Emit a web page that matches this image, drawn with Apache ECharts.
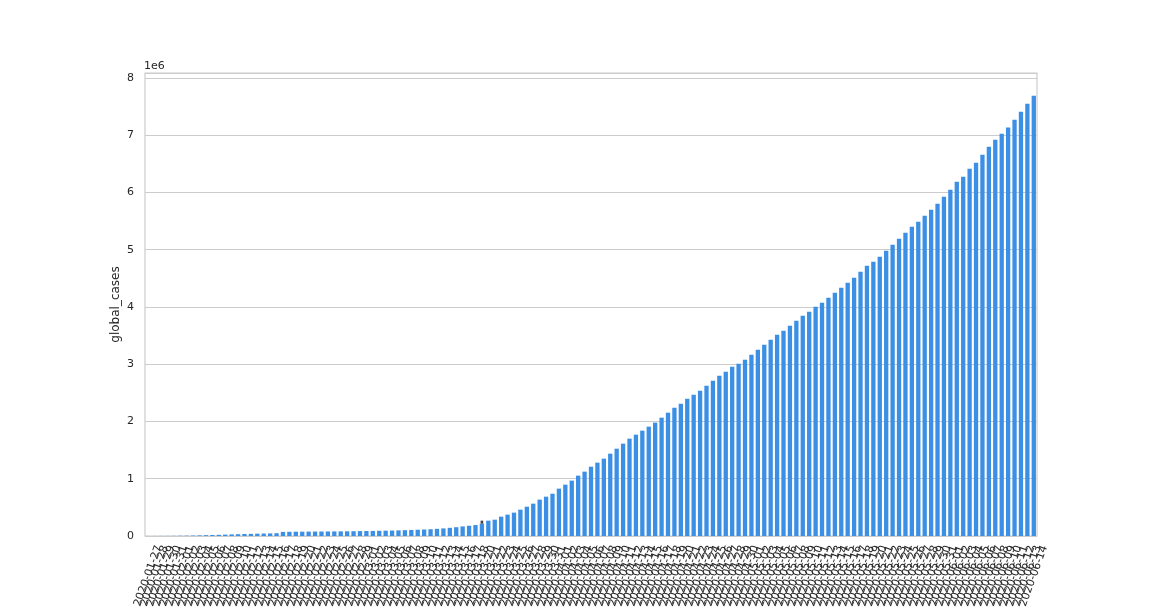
<!DOCTYPE html>
<html>
<head>
<meta charset="utf-8">
<script src="https://cdn.jsdelivr.net/npm/echarts@6/dist/echarts.min.js"></script>
<style>
  html, body { margin: 0; padding: 0; background: #fff; }
  #chart { width: 1152px; height: 612px; }
</style>
</head>
<body>
<div id="chart"></div>
<script>
// dates on the x axis (one bar per date, 2020-03-19 is not in the data)
const dates = [
  '2020-01-27', '2020-01-28', '2020-01-29', '2020-01-30', '2020-01-31',
  '2020-02-01', '2020-02-02', '2020-02-03', '2020-02-04', '2020-02-05', '2020-02-06', '2020-02-07',
  '2020-02-08', '2020-02-09', '2020-02-10', '2020-02-11', '2020-02-12', '2020-02-13', '2020-02-14',
  '2020-02-15', '2020-02-16', '2020-02-17', '2020-02-18', '2020-02-19', '2020-02-20', '2020-02-21',
  '2020-02-22', '2020-02-23', '2020-02-24', '2020-02-25', '2020-02-26', '2020-02-27', '2020-02-28',
  '2020-02-29',
  '2020-03-01', '2020-03-02', '2020-03-03', '2020-03-04', '2020-03-05', '2020-03-06', '2020-03-07',
  '2020-03-08', '2020-03-09', '2020-03-10', '2020-03-11', '2020-03-12', '2020-03-13', '2020-03-14',
  '2020-03-15', '2020-03-16', '2020-03-17', '2020-03-18', '2020-03-20', '2020-03-21', '2020-03-22',
  '2020-03-23', '2020-03-24', '2020-03-25', '2020-03-26', '2020-03-27', '2020-03-28', '2020-03-29',
  '2020-03-30', '2020-03-31',
  '2020-04-01', '2020-04-02', '2020-04-03', '2020-04-04', '2020-04-05', '2020-04-06', '2020-04-07',
  '2020-04-08', '2020-04-09', '2020-04-10', '2020-04-11', '2020-04-12', '2020-04-13', '2020-04-14',
  '2020-04-15', '2020-04-16', '2020-04-17', '2020-04-18', '2020-04-19', '2020-04-20', '2020-04-21',
  '2020-04-22', '2020-04-23', '2020-04-24', '2020-04-25', '2020-04-26', '2020-04-27', '2020-04-28',
  '2020-04-29', '2020-04-30',
  '2020-05-01', '2020-05-02', '2020-05-03', '2020-05-04', '2020-05-05', '2020-05-06', '2020-05-07',
  '2020-05-08', '2020-05-09', '2020-05-10', '2020-05-11', '2020-05-12', '2020-05-13', '2020-05-14',
  '2020-05-15', '2020-05-16', '2020-05-17', '2020-05-18', '2020-05-19', '2020-05-20', '2020-05-21',
  '2020-05-22', '2020-05-23', '2020-05-24', '2020-05-25', '2020-05-26', '2020-05-27', '2020-05-28',
  '2020-05-29', '2020-05-30', '2020-05-31',
  '2020-06-01', '2020-06-02', '2020-06-03', '2020-06-04', '2020-06-05', '2020-06-06', '2020-06-07',
  '2020-06-08', '2020-06-09', '2020-06-10', '2020-06-11', '2020-06-12', '2020-06-13', '2020-06-14'
]

// cumulative global cases, one per date
const globalCases = [
  600, 900, 1300, 2000, 2800,
  4600, 6100, 7800, 11000, 14500, 17500, 20600,
  24500, 28300, 31500, 34900, 37600, 40600, 43100,
  45200, 49000, 71400, 73300, 75200, 75700, 76800,
  77800, 78800, 79300, 80200, 81100, 82300, 83700,
  85400,
  87100, 89000, 90900, 93100, 95300, 98200, 101900,
  105600, 109600, 113700, 118300, 125300, 132800, 142500,
  153500, 167500, 179100, 191100, 215000, 268000, 285000,
  338000, 373000, 408000, 460000, 512000, 565000, 635000,
  687000, 739000,
  827000, 897000, 967000, 1054000, 1124000, 1211000, 1281000,
  1351000, 1438000, 1525000, 1613000, 1700000, 1770000, 1840000,
  1910000, 1980000, 2067000, 2154000, 2242000, 2312000, 2399000,
  2469000, 2539000, 2626000, 2713000, 2801000, 2870000, 2958000,
  3010000, 3080000,
  3167000, 3255000, 3342000, 3429000, 3517000, 3587000, 3674000,
  3761000, 3849000, 3918000, 4006000, 4076000, 4163000, 4250000,
  4338000, 4425000, 4512000, 4617000, 4722000, 4792000, 4879000,
  4984000, 5089000, 5194000, 5298000, 5403000, 5491000, 5595000,
  5700000, 5805000, 5927000,
  6049000, 6189000, 6277000, 6416000, 6521000, 6661000, 6801000,
  6923000, 7028000, 7133000, 7272000, 7412000, 7552000, 7691000
]

// the one date that has an error bar (two rows in the data)
const errDate = '2020-03-20'
const errLow = 215000
const errHigh = 268000

const yTicks = [0, 1, 2, 3, 4, 5, 6, 7, 8] // in units of 1e6

var myChart = echarts.init(document.getElementById('chart'), null, { renderer: 'canvas' })

var option = {
  animation: false,
  backgroundColor: '#ffffff',
  textStyle: { fontFamily: 'DejaVu Sans' },
  grid: {
    left: 145,
    right: 115,
    top: 73,
    bottom: 76,
    show: true,
    borderColor: '#cccccc',
    borderWidth: 1.2
  },
  xAxis: {
    type: 'category',
    data: dates,
    axisLine: { show: false },
    axisTick: { show: false },
    splitLine: { show: false },
    axisLabel: {
      interval: 0,
      rotate: 70,
      align: 'center',
      verticalAlign: 'middle',
      margin: 40,
      fontSize: 11,
      color: '#262626'
    }
  },
  yAxis: {
    type: 'value',
    min: 0,
    max: 8087000,
    interval: 1000000,
    name: 'global_cases',
    nameLocation: 'middle',
    nameGap: 23,
    nameMoveOverlap: false,
    nameTextStyle: { fontSize: 12, color: '#262626' },
    axisLine: { show: false },
    axisTick: { show: false },
    splitLine: { lineStyle: { color: '#cccccc', width: 1 } },
    axisLabel: {
      fontSize: 11,
      color: '#262626',
      margin: 11,
      formatter: function (v) {
        var m = Math.round(v / 1e6)
        return (Math.abs(v - m * 1e6) < 1 && yTicks.indexOf(m) >= 0) ? String(m) : ''
      }
    }
  },
  graphic: [
    {
      type: 'text',
      left: 144,
      top: 61,
      style: { text: '1e6', fontSize: 11, fill: '#262626', fontFamily: 'DejaVu Sans' }
    }
  ],
  series: [
    {
      type: 'bar',
      data: globalCases,
      barCategoryGap: '33%',
      itemStyle: { color: '#3b8fe4' },
      silent: true
    },
    {
      // error bar drawn on top of the bar for the duplicated date
      type: 'custom',
      silent: true,
      z: 5,
      data: [[errDate, errLow, errHigh]],
      renderItem: function (params, api) {
        var lo = api.coord([api.value(0), api.value(1)])
        var hi = api.coord([api.value(0), api.value(2)])
        return {
          type: 'line',
          shape: { x1: lo[0], y1: lo[1], x2: hi[0], y2: hi[1] },
          style: { stroke: '#424242', lineWidth: 2.6 }
        }
      },
      encode: { x: 0, y: [1, 2] }
    }
  ]
}

myChart.setOption(option)
</script>
</body>
</html>
